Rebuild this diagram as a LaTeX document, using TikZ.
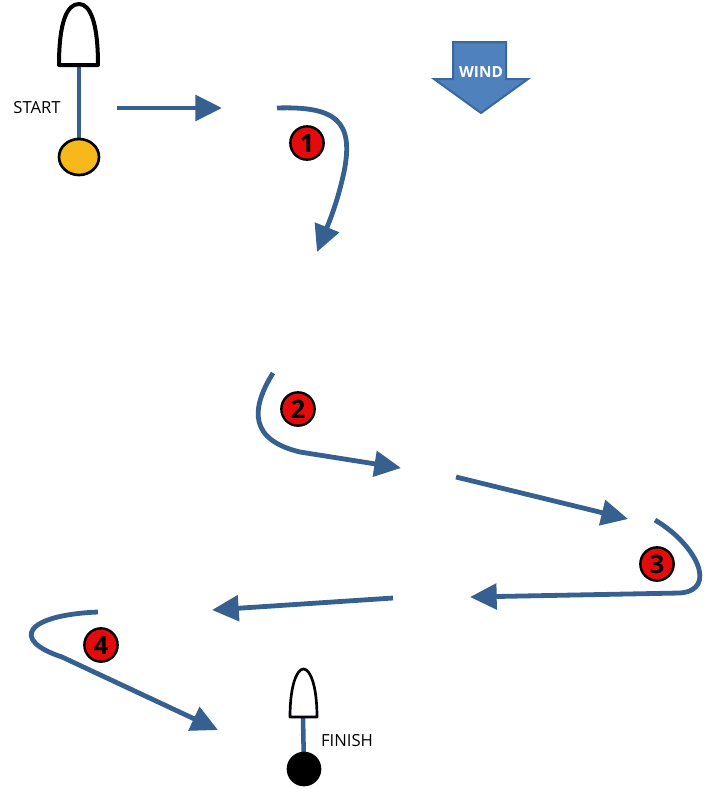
\documentclass[tikz,border=0pt]{standalone}
\usepackage{fontspec}
\setmainfont{Open Sans}
\usetikzlibrary{arrows.meta,shapes.geometric}
\definecolor{route}{HTML}{35608F}
\definecolor{windfill}{HTML}{4F81BD}
\definecolor{windline}{HTML}{3A679E}
\definecolor{markred}{HTML}{E30B0B}
\definecolor{buoy}{HTML}{F7B81A}
\tikzset{
  leg/.style={draw=route, line width=3.6pt, -{Triangle[length=20pt,width=19pt]}},
  marker/.style={circle, draw=black, line width=1.8pt, fill=markred, minimum size=25pt, inner sep=0pt, font=\bfseries\fontsize{19}{19}\selectfont},
  flagline/.style={draw=black, line width=3pt, fill=white, line join=round},
  pole/.style={draw=route, line width=3.4pt},
  lbl/.style={font=\fontsize{12.5}{14}\selectfont, inner sep=0pt},
}
\begin{document}
\begin{tikzpicture}[x=0.75pt,y=-0.75pt]
\useasboundingbox (0,0) rectangle (711,789);
% START flag
\coordinate (sflagb) at (79,65);
\coordinate (sbuoy) at (79,157);
\draw[pole] (sflagb) -- (sbuoy);
\draw[flagline] (59,65) -- (98,65) .. controls (98,22) and (90,4) .. (79,4) .. controls (67,4) and (59,22) .. (59,65) -- cycle;
\node[ellipse, draw=black, line width=2pt, fill=buoy, minimum width=30pt, minimum height=27pt, inner sep=0pt] (sb) at (sbuoy) {};
\node[lbl] (start) at (37,108) {START};
% start arrow
\coordinate (a0s) at (117,108);
\coordinate (a0e) at (222,108);
\draw[leg] (a0s) -- (a0e);
% WIND arrow
\draw[fill=windfill, draw=windline, line width=1.5pt, line join=miter] (453,42) -- (506,42) -- (506,79) -- (528,79) -- (481,113) -- (434,79) -- (453,79) -- cycle;
\node[text=white, font=\bfseries\fontsize{11.5}{12}\selectfont] (wind) at (481,72) {WIND};
% leg 1
\coordinate (c1s) at (277,108);
\coordinate (c1e) at (317,252);
\draw[leg] (c1s) .. controls (337,106) and (354,122) .. (344,172) .. controls (338,200) and (330,220) .. (c1e);
\node[marker] (m1) at (307,143) {1};
% leg 2
\coordinate (c2s) at (273,373);
\coordinate (c2e) at (401,468);
\draw[leg] (c2s) .. controls (250,410) and (250,440) .. (300,452) -- (c2e);
\node[marker] (m2) at (298,409) {2};
% straight leg
\coordinate (s2s) at (456,477);
\coordinate (s2e) at (628,519);
\draw[leg] (s2s) -- (s2e);
% leg 3
\coordinate (c3s) at (655,520);
\coordinate (c3e) at (470,597);
\draw[leg] (c3s) .. controls (697,545) and (718,590) .. (680,593) -- (c3e);
\node[marker] (m3) at (657,564) {3};
% straight leg back
\coordinate (s3s) at (393,598);
\coordinate (s3e) at (212,610);
\draw[leg] (s3s) -- (s3e);
% leg 4
\coordinate (c4s) at (98,612);
\coordinate (c4e) at (218,730);
\draw[leg] (c4s) .. controls (25,615) and (10,640) .. (62,657) -- (c4e);
\node[marker] (m4) at (101,645) {4};
% FINISH flag
\coordinate (fflagb) at (303,717);
\coordinate (fbuoy) at (304,769);
\draw[pole] (fflagb) -- (fbuoy);
\draw[draw=black, line width=2pt, fill=white, line join=round] (290,717) -- (317,717) .. controls (317,685) and (310,669) .. (303.5,669) .. controls (297,669) and (290,685) .. (290,717) -- cycle;
\node[circle, fill=black, minimum size=26pt, inner sep=0pt] (fb) at (fbuoy) {};
\node[lbl] (finish) at (347,741) {FINISH};
\end{tikzpicture}
\end{document}
